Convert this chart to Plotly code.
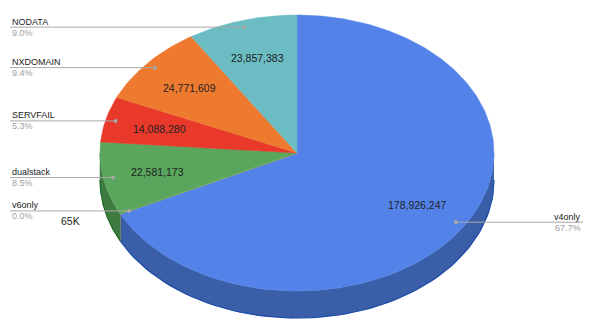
import numpy as np
import plotly.graph_objects as go

# Slice data (clockwise from 12 o'clock)
labels = ["v4only", "v6only", "dualstack", "SERVFAIL", "NXDOMAIN", "NODATA"]
values = [178926247, 65000, 22581173, 14088280, 24771609, 23857383]
value_text = ["178,926,247", "65K", "22,581,173", "14,088,280", "24,771,609", "23,857,383"]
top_colors = ["#5383E8", "#F6BD2B", "#59A65C", "#E8392B", "#EE7A30", "#6BBDC3"]
side_colors = ["#3A5EA8", "#B08A1F", "#3E7B41", "#A82A20", "#AD5A24", "#4E8A8E"]
edge_colors = ["#1F4DA8", "#8A6A10", "#1E6A22", "#8A1E16", "#8A4418", "#3A7075"]

# Ellipse geometry in pixel space
cx, cy, rx, ry, depth = 297.0, 153.0, 197.0, 138.0, 27.0


def pt(theta, r=1.0, dy=0.0):
    return cx + r * rx * np.sin(theta), cy - r * ry * np.cos(theta) + dy


vals = np.array(values, dtype=float)
frac = vals / vals.sum()
ends = np.cumsum(frac) * 2 * np.pi
starts = ends - frac * 2 * np.pi
mids = (starts + ends) / 2

fig = go.Figure()

# Side walls of the front half
for i in range(len(values)):
    s0 = max(starts[i], np.pi / 2)
    s1 = min(ends[i], 3 * np.pi / 2)
    if s1 <= s0:
        continue
    t = np.linspace(s0, s1, 80)
    xt, yt = pt(t)
    xb, yb = pt(t[::-1], dy=depth)
    fig.add_trace(go.Scatter(
        x=np.concatenate([xt, xb]), y=np.concatenate([yt, yb]),
        fill="toself", fillcolor=side_colors[i], mode="lines",
        line=dict(color=side_colors[i], width=0.5), hoverinfo="skip"))
    xe, ye = pt(t, dy=depth)
    fig.add_trace(go.Scatter(x=xe, y=ye, mode="lines",
                             line=dict(color=edge_colors[i], width=1.2),
                             hoverinfo="skip"))

# Top surface slices
for i in range(len(values)):
    t = np.linspace(starts[i], ends[i], max(3, int(frac[i] * 400)))
    xs, ys = pt(t)
    fig.add_trace(go.Scatter(
        x=np.concatenate([[cx], xs, [cx]]), y=np.concatenate([[cy], ys, [cy]]),
        fill="toself", fillcolor=top_colors[i], mode="lines",
        line=dict(color=top_colors[i], width=0.5), hoverinfo="skip"))

annotations = []
font = "Liberation Sans, Arial, sans-serif"

# Value labels inside the slices
for i in range(len(values)):
    if frac[i] < 0.01:
        continue
    x, y = pt(mids[i], r=0.72)
    annotations.append(dict(x=x, y=y, text=value_text[i], showarrow=False,
                            font=dict(family=font, size=10.5, color="#222222"),
                            xanchor="center", yanchor="middle"))

# Leader lines, dots and legend-style labels
left_x, right_x = 10, 583
for i in range(len(values)):
    dx, dy = pt(mids[i], r=0.95)
    pct = f"{frac[i] * 100:.1f}%"
    on_left = np.sin(mids[i]) < 0
    end_x = left_x if on_left else right_x
    fig.add_trace(go.Scatter(x=[end_x, dx], y=[dy, dy], mode="lines",
                             line=dict(color="#A8A8A8", width=1), hoverinfo="skip"))
    fig.add_trace(go.Scatter(x=[dx], y=[dy], mode="markers",
                             marker=dict(color="#A8A8A8", size=4), hoverinfo="skip"))
    anchor = "left" if on_left else "right"
    annotations.append(dict(x=end_x, y=dy - 5.5, text=labels[i], showarrow=False,
                            font=dict(family=font, size=9, color="#222222"),
                            xanchor=anchor, yanchor="middle"))
    annotations.append(dict(x=end_x, y=dy + 5.5, text=pct, showarrow=False,
                            font=dict(family=font, size=9, color="#A0A0A0"),
                            xanchor=anchor, yanchor="middle"))
    if frac[i] < 0.01:
        # tiny slice: its value sits outside, beside the leader line
        annotations.append(dict(x=dx - 59, y=dy + 10, text=value_text[i], showarrow=False,
                                font=dict(family=font, size=10.5, color="#222222"),
                                xanchor="center", yanchor="middle"))

fig.update_layout(
    width=600, height=328,
    margin=dict(l=0, r=0, t=0, b=0),
    paper_bgcolor="white", plot_bgcolor="white",
    showlegend=False,
    xaxis=dict(range=[0, 600], visible=False, fixedrange=True),
    yaxis=dict(range=[328, 0], visible=False, fixedrange=True),
    annotations=annotations,
)

fig.write_html("out.html", config={"displayModeBar": False})
